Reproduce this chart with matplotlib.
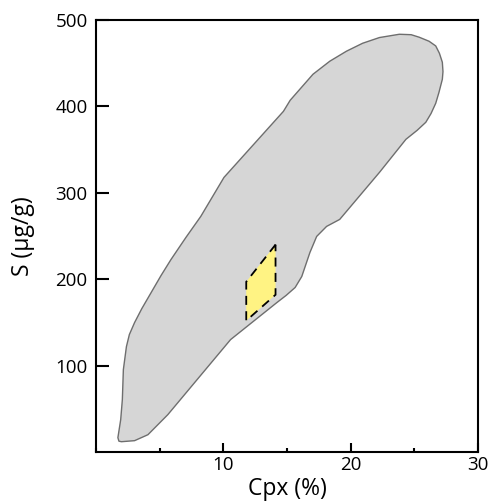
import numpy as np
import matplotlib
matplotlib.use('Agg')
import matplotlib.pyplot as plt
from matplotlib.patches import Polygon
from matplotlib.ticker import MultipleLocator

plt.rcParams['font.family'] = ['Open Sans', 'DejaVu Sans']

#outline of the grey field (Cpx %, S ug/g), clockwise from the lower tip
field_cpx = [1.72, 1.94, 2.07, 2.11, 2.15, 2.39, 2.62, 3.03, 3.6,
             5.11, 5.89, 7.06, 8.23, 10.05, 14.72, 15.25, 17.04, 18.36, 19.67,
             20.94, 22.26, 23.82, 24.75, 25.38, 26.16, 26.68, 26.97, 27.2, 27.25,
             27.2, 26.93, 26.68, 26.31, 25.9, 25.22, 24.34, 22.26, 19.14, 18.11,
             17.33, 16.8, 16.16, 15.64, 14.93, 14.21, 10.57, 5.64, 4.47, 4.08,
             3.03, 2.0, 1.8]
field_s = [16.6, 37.4, 60.6, 78.0, 95.4, 122.0, 135.9, 149.8, 166.0,
           204.3, 222.8, 248.3, 272.7, 317.8, 394.3, 407.1, 437.2, 452.3, 463.9,
           473.1, 479.7, 483.5, 483.0, 480.1, 475.4, 470.0, 461.5, 451.1, 440.3,
           431.4, 416.0, 403.6, 391.7, 381.6, 372.3, 361.9, 323.6, 269.2, 261.1,
           249.5, 230.9, 203.1, 190.4, 181.2, 173.0, 130.1, 43.2, 25.8, 20.0,
           13.1, 11.9, 12.5]

#yellow box
box_cpx = [14.1, 11.8, 11.8, 14.1]
box_s = [240, 197, 152, 182]

xticks = [10, 20, 30]
yticks = [100, 200, 300, 400, 500]

fig = plt.figure(figsize=(4.89, 5.04), dpi=100)
ax = fig.add_axes([0.1963, 0.1032, 0.7812, 0.8571])

ax.add_patch(Polygon(np.column_stack([field_cpx, field_s]), closed=True,
                     facecolor='#d6d6d6', edgecolor='#6e6e6e', linewidth=1.0,
                     joinstyle='round'))
ax.add_patch(Polygon(np.column_stack([box_cpx, box_s]), closed=True,
                     facecolor='#fff383', edgecolor='black', linewidth=1.3,
                     linestyle=(0, (5, 3.5))))

ax.set_xlim(0, 30)
ax.set_ylim(0, 500)
ax.set_xticks(xticks)
ax.set_yticks(yticks)
ax.xaxis.set_minor_locator(MultipleLocator(5))

for s in ax.spines.values():
    s.set_linewidth(1.5)
ax.tick_params(axis='both', which='both', direction='in', width=1.5,
               labelsize=13.5, top=False, right=False)
ax.tick_params(axis='y', which='major', length=9, pad=6)
ax.tick_params(axis='x', which='major', length=6.5, pad=3)
ax.tick_params(axis='x', which='minor', length=3)

ax.set_xlabel('Cpx (%)', fontsize=16.5, labelpad=2)
ax.set_ylabel('S (µg/g)', fontsize=16.5, labelpad=15)

plt.savefig('out.png', dpi=100)
